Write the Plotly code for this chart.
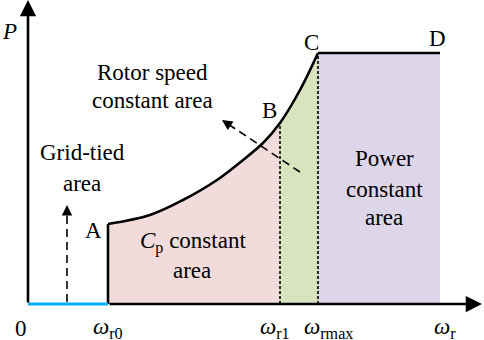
import plotly.graph_objects as go

# ---- data (omega in drawing units from origin, P in drawing units from axis) ----
omega_curve = [80, 122, 155, 189, 215, 235, 252, 272, 290]
p_curve = [80, 89, 104, 124, 144, 161, 181, 214, 251]
omega_r0 = 80
omega_r1 = 252
omega_rmax = 290
omega_end = 412
p_max = 251
tick_labels = ["0", "<i>ω</i><sub>r0</sub>", "<i>ω</i><sub>r1</sub>", "<i>ω</i><sub>rmax</sub>", "<i>ω</i><sub>r</sub>"]
tick_pos = [0, omega_r0, omega_r1, omega_rmax, omega_end]

PINK = "#F2DCDB"
GREEN = "#D7E4BD"
PURPLE = "#DDD6E8"
BLUE = "#00B0F0"
FONT = "Liberation Serif"

i1 = omega_curve.index(omega_r1)
fig = go.Figure()

# pink Cp-constant region
fig.add_trace(go.Scatter(x=omega_curve[:i1 + 1], y=p_curve[:i1 + 1], mode="lines",
                         line=dict(width=0, shape="spline"), fill="tozeroy", fillcolor=PINK))
# green rotor-speed-constant region
fig.add_trace(go.Scatter(x=omega_curve[i1:], y=p_curve[i1:], mode="lines",
                         line=dict(width=0, shape="spline"), fill="tozeroy", fillcolor=GREEN))
# purple power-constant region
fig.add_trace(go.Scatter(x=[omega_rmax, omega_end], y=[p_max, p_max], mode="lines",
                         line=dict(width=0), fill="tozeroy", fillcolor=PURPLE))

# dotted vertical separators
fig.add_trace(go.Scatter(x=[omega_r1, omega_r1], y=[0, p_curve[i1]], mode="lines",
                         line=dict(color="black", width=1.6, dash="3px,2px")))
fig.add_trace(go.Scatter(x=[omega_rmax, omega_rmax], y=[0, p_max], mode="lines",
                         line=dict(color="black", width=1.6, dash="3px,2px")))

# vertical edge at A
fig.add_trace(go.Scatter(x=[omega_r0, omega_r0], y=[0, p_curve[0]], mode="lines",
                         line=dict(color="black", width=2.6)))
# power curve A-B-C
fig.add_trace(go.Scatter(x=omega_curve, y=p_curve, mode="lines",
                         line=dict(color="black", width=2.6, shape="spline")))
# flat C-D
fig.add_trace(go.Scatter(x=[omega_rmax, omega_end], y=[p_max, p_max], mode="lines",
                         line=dict(color="black", width=2.6)))
# blue grid-tied segment
fig.add_trace(go.Scatter(x=[0, omega_r0], y=[0, 0], mode="lines",
                         line=dict(color=BLUE, width=3)))

# dashed arrows (lines)
up_x, up_y0, up_tip = 39, 2, 99
fig.add_trace(go.Scatter(x=[up_x, up_x], y=[up_y0, up_tip - 6], mode="lines",
                         line=dict(color="black", width=1.6, dash="8px,5px")))
diag_tail = (272, 132)
diag_tip = (194, 184)
fig.add_trace(go.Scatter(x=[diag_tail[0], diag_tip[0] + 5], y=[diag_tail[1], diag_tip[1] - 3.3], mode="lines",
                         line=dict(color="black", width=1.6, dash="8px,5px")))

ann = []
# axes with arrow heads
ann.append(dict(x=0, y=304, ax=0, ay=0, xref="x", yref="y", axref="x", ayref="y",
                showarrow=True, arrowhead=2, arrowwidth=2.6, arrowsize=1.25, arrowcolor="black", text=""))
ann.append(dict(x=454, y=0, ax=omega_r0, ay=0, xref="x", yref="y", axref="x", ayref="y",
                showarrow=True, arrowhead=2, arrowwidth=2.6, arrowsize=1.25, arrowcolor="black", text=""))
# dashed arrow heads
ann.append(dict(x=up_x, y=up_tip, ax=0, ay=12, xref="x", yref="y",
                showarrow=True, arrowhead=2, arrowwidth=1.6, arrowsize=1.3, arrowcolor="black", text=""))
ann.append(dict(x=diag_tip[0], y=diag_tip[1], ax=10, ay=6.7, xref="x", yref="y",
                showarrow=True, arrowhead=2, arrowwidth=1.6, arrowsize=1.3, arrowcolor="black", text=""))

def txt(x, y, s, **kw):
    d = dict(x=x, y=y, xref="x", yref="y", text=s, showarrow=False,
             font=dict(family=FONT, size=23, color="black"))
    d.update(kw)
    ann.append(d)

txt(-19, 273, "<i>P</i>")
txt(283, 262, "C")
txt(409, 266, "D")
txt(241, 194, "B")
txt(65, 74, "A")
txt(124, 232, "Rotor speed")
txt(124, 204, "constant area")
txt(54, 152, "Grid-tied")
txt(54, 121, "area")
txt(165, 62, "<i>C</i><sub>p</sub> constant")
txt(164, 34, "area")
txt(356, 146, "Power")
txt(356, 115, "constant")
txt(356, 87, "area")

shifts = [-7, 0, -5, 10, 5]
for pos, lab, sh in zip(tick_pos, tick_labels, shifts):
    txt(pos, -24, lab, xshift=sh)

fig.update_layout(
    width=484, height=340, margin=dict(l=0, r=0, t=0, b=0),
    paper_bgcolor="white", plot_bgcolor="white", showlegend=False,
    xaxis=dict(visible=False, range=[-28, 456], fixedrange=True),
    yaxis=dict(visible=False, range=[-36, 304], fixedrange=True),
    annotations=ann,
)

fig.write_html("out.html", config={"displayModeBar": False, "staticPlot": True},
               post_script="document.body.style.margin='0';document.body.style.overflow='hidden';")
